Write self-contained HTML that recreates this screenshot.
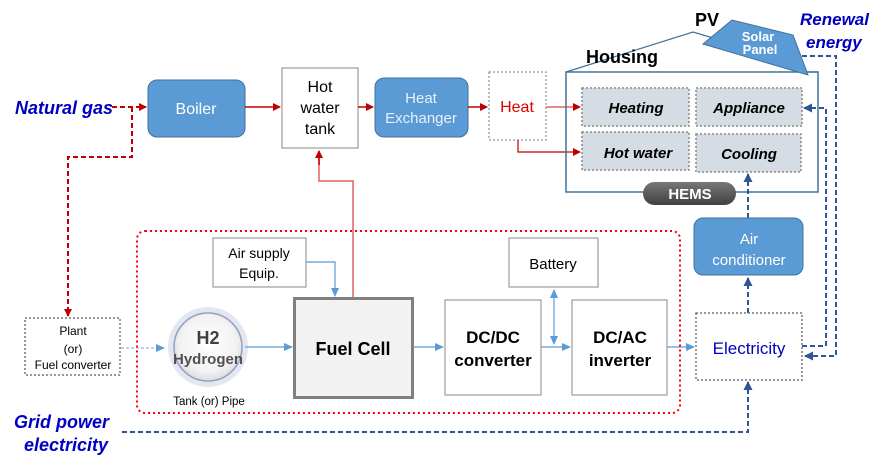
<!DOCTYPE html>
<html><head><meta charset="utf-8"><style>
html,body{margin:0;padding:0;background:#fff;}
svg{display:block;font-family:"Liberation Sans",sans-serif;}
</style></head><body>
<svg width="883" height="462" viewBox="0 0 883 462" xmlns="http://www.w3.org/2000/svg">
<defs>
<marker id="ar" markerWidth="8" markerHeight="8" refX="7" refY="4" orient="auto" markerUnits="userSpaceOnUse"><path d="M0,0 L8,4 L0,8 z" fill="#c00000"/></marker>
<marker id="ab" markerWidth="9" markerHeight="8" refX="8" refY="4" orient="auto" markerUnits="userSpaceOnUse"><path d="M0,0 L9,4 L0,8 z" fill="#5b9bd5"/></marker>
<marker id="ad" markerWidth="9" markerHeight="9" refX="8" refY="4.5" orient="auto" markerUnits="userSpaceOnUse"><path d="M0,0 L9,4.5 L0,9 z" fill="#2f5597"/></marker>
<marker id="abs" markerWidth="9" markerHeight="8" refX="1" refY="4" orient="auto" markerUnits="userSpaceOnUse"><path d="M9,0 L0,4 L9,8 z" fill="#5b9bd5"/></marker>
<radialGradient id="hg" cx="50%" cy="45%" r="55%"><stop offset="0" stop-color="#fff"/><stop offset="0.75" stop-color="#f2f2f2"/><stop offset="1" stop-color="#ddd"/></radialGradient>
<linearGradient id="hemsg" x1="0" y1="0" x2="0" y2="1"><stop offset="0" stop-color="#777"/><stop offset="1" stop-color="#404040"/></linearGradient>
</defs>

<!-- Natural gas -->
<text x="15" y="114" font-size="18" font-weight="bold" font-style="italic" fill="#0000c0">Natural gas</text>
<path d="M112,107 H146" stroke="#c00000" stroke-width="2" stroke-dasharray="5,3" fill="none" marker-end="url(#ar)"/>
<path d="M132,107 V157 H68 V316" stroke="#c00000" stroke-width="2" stroke-dasharray="5,3" fill="none" marker-end="url(#ar)"/>

<!-- Boiler -->
<rect x="148" y="80" width="97" height="57" rx="9" fill="#5b9bd5" stroke="#41719c"/>
<text x="196" y="114" font-size="16" fill="#fff" text-anchor="middle">Boiler</text>
<path d="M245,107 H280" stroke="#c00000" stroke-width="1.5" fill="none" marker-end="url(#ar)"/>

<rect x="282" y="68" width="76" height="80" fill="#fff" stroke="#888"/>
<text x="320" y="92" font-size="16" text-anchor="middle">Hot</text>
<text x="320" y="113" font-size="16" text-anchor="middle">water</text>
<text x="320" y="134" font-size="16" text-anchor="middle">tank</text>
<path d="M358,107 H373" stroke="#c00000" stroke-width="1.5" fill="none" marker-end="url(#ar)"/>

<rect x="375" y="78" width="93" height="59" rx="9" fill="#5b9bd5" stroke="#41719c"/>
<text x="421" y="103" font-size="15" fill="#e8f0fa" text-anchor="middle">Heat</text>
<text x="421" y="123" font-size="15" fill="#e8f0fa" text-anchor="middle">Exchanger</text>
<path d="M468,107 H487" stroke="#c00000" stroke-width="1.5" fill="none" marker-end="url(#ar)"/>

<rect x="489" y="72" width="57" height="68" fill="#fff" stroke="#777" stroke-dasharray="2,2"/>
<text x="517" y="112" font-size="16" fill="#e00000" text-anchor="middle">Heat</text>
<path d="M546,107 H580" stroke="#e06060" stroke-width="1.5" fill="none" marker-end="url(#ar)"/>
<path d="M518,140 V152 H580" stroke="#c00000" stroke-width="1.2" fill="none" marker-end="url(#ar)"/>

<!-- Housing -->
<path d="M566,72 L693,32 L720,40" stroke="#41719c" stroke-width="1.2" fill="none"/>
<path d="M800,72 L818,72" stroke="#41719c" stroke-width="1.2"/>
<rect x="566" y="72" width="252" height="120" fill="none" stroke="#41719c" stroke-width="1.5"/>
<polygon points="703,44 732,20 793,35 808,75" fill="#5b9bd5" stroke="#41719c"/>
<text x="758" y="41" font-size="13" font-weight="bold" fill="#fff" text-anchor="middle">Solar</text>
<text x="760" y="54" font-size="13" font-weight="bold" fill="#fff" text-anchor="middle">Panel</text>
<text x="695" y="26" font-size="18" font-weight="bold">PV</text>
<text x="586" y="63" font-size="18" font-weight="bold">Housing</text>

<g stroke="#888" stroke-dasharray="2,2" fill="#d6dce4" stroke-width="1.5">
<rect x="582" y="88" width="107" height="38"/>
<rect x="696" y="88" width="106" height="38"/>
<rect x="582" y="132" width="107" height="38"/>
<rect x="696" y="134" width="105" height="38"/>
</g>
<g font-size="15" font-weight="bold" font-style="italic" text-anchor="middle">
<text x="636" y="113">Heating</text>
<text x="749" y="113">Appliance</text>
<text x="638" y="158">Hot water</text>
<text x="749" y="159">Cooling</text>
</g>
<rect x="643" y="182" width="93" height="23" rx="11.5" fill="url(#hemsg)"/>
<text x="690" y="199" font-size="15" font-weight="bold" fill="#fff" text-anchor="middle">HEMS</text>

<text x="800" y="25" font-size="17" font-weight="bold" font-style="italic" fill="#0000c0">Renewal</text>
<text x="806" y="48" font-size="17" font-weight="bold" font-style="italic" fill="#0000c0">energy</text>

<!-- right dashed -->
<path d="M802,56 H836 V356 H805" stroke="#2f5597" stroke-width="2" stroke-dasharray="5,3" fill="none" marker-end="url(#ad)"/>
<path d="M802,346 H826 V108 H804" stroke="#2f5597" stroke-width="2" stroke-dasharray="5,3" fill="none" marker-end="url(#ad)"/>
<path d="M748,218 V174" stroke="#2f5597" stroke-width="2" stroke-dasharray="5,3" fill="none" marker-end="url(#ad)"/>

<!-- Air conditioner -->
<rect x="694" y="218" width="109" height="57" rx="9" fill="#5b9bd5" stroke="#41719c"/>
<text x="749" y="244" font-size="15" fill="#fff" text-anchor="middle">Air</text>
<text x="749" y="265" font-size="15" fill="#fff" text-anchor="middle">conditioner</text>
<path d="M748,313 V278" stroke="#2f5597" stroke-width="2" stroke-dasharray="5,3" fill="none" marker-end="url(#ad)"/>

<rect x="696" y="313" width="106" height="67" fill="#fff" stroke="#777" stroke-width="1.5" stroke-dasharray="2,2"/>
<text x="749" y="354" font-size="17" fill="#0000c0" text-anchor="middle">Electricity</text>

<!-- red dotted region -->
<rect x="137" y="231" width="543" height="182" rx="8" fill="none" stroke="#ff0000" stroke-width="2" stroke-dasharray="2,3"/>

<!-- Fuel cell to hot water -->
<path d="M353,297 V181 H319 V151" stroke="#e06060" stroke-width="1.5" fill="none"/>
<path d="M319,165 V151" stroke="#c00000" stroke-width="1.5" fill="none" marker-end="url(#ar)"/>

<rect x="213" y="238" width="93" height="49" fill="#fff" stroke="#888"/>
<text x="259" y="258" font-size="14" text-anchor="middle">Air supply</text>
<text x="259" y="278" font-size="14" text-anchor="middle">Equip.</text>
<path d="M306,262 H335 V296" stroke="#5b9bd5" stroke-width="1.2" fill="none" marker-end="url(#ab)"/>

<rect x="294.5" y="298.5" width="118" height="99" fill="#f2f2f2" stroke="#808080" stroke-width="3"/>
<text x="353" y="355" font-size="18" font-weight="bold" text-anchor="middle">Fuel  Cell</text>

<!-- H2 -->
<circle cx="208" cy="347" r="40" fill="#e4e8ee"/>
<circle cx="208" cy="347" r="34" fill="url(#hg)" stroke="#8fa2c4" stroke-width="1.5"/>
<text x="208" y="344" font-size="18" font-weight="bold" fill="#404040" text-anchor="middle">H2</text>
<text x="208" y="364" font-size="15" font-weight="bold" fill="#505050" text-anchor="middle">Hydrogen</text>
<text x="209" y="405" font-size="11.5" text-anchor="middle">Tank (or) Pipe</text>
<path d="M245,347 H292" stroke="#5b9bd5" stroke-width="1.2" fill="none" marker-end="url(#ab)"/>

<rect x="25" y="318" width="95" height="57" fill="#fff" stroke="#777" stroke-width="1.5" stroke-dasharray="2,2"/>
<text x="73" y="335" font-size="12" text-anchor="middle">Plant</text>
<text x="73" y="353" font-size="12" text-anchor="middle">(or)</text>
<text x="73" y="369" font-size="12" text-anchor="middle">Fuel converter</text>
<path d="M121,348 H164" stroke="#9dc3e6" stroke-width="1.5" stroke-dasharray="3,2" fill="none" marker-end="url(#ab)"/>

<path d="M413,347 H443" stroke="#5b9bd5" stroke-width="1.2" fill="none" marker-end="url(#ab)"/>
<rect x="445" y="300" width="96" height="95" fill="#fff" stroke="#888"/>
<text x="493" y="343" font-size="17" font-weight="bold" text-anchor="middle">DC/DC</text>
<text x="493" y="366" font-size="17" font-weight="bold" text-anchor="middle">converter</text>
<path d="M541,347 H570" stroke="#5b9bd5" stroke-width="1.2" fill="none" marker-end="url(#ab)"/>
<path d="M554,290 V344" stroke="#5b9bd5" stroke-width="1.2" fill="none" marker-start="url(#abs)" marker-end="url(#ab)"/>

<rect x="509" y="238" width="89" height="49" fill="#fff" stroke="#888"/>
<text x="553" y="269" font-size="15" text-anchor="middle">Battery</text>

<rect x="572" y="300" width="95" height="95" fill="#fff" stroke="#888"/>
<text x="620" y="343" font-size="17" font-weight="bold" text-anchor="middle">DC/AC</text>
<text x="620" y="366" font-size="17" font-weight="bold" text-anchor="middle">inverter</text>
<path d="M667,347 H694" stroke="#5b9bd5" stroke-width="1.2" fill="none" marker-end="url(#ab)"/>

<!-- Grid -->
<text x="14" y="428" font-size="18" font-weight="bold" font-style="italic" fill="#0000c0">Grid power</text>
<text x="24" y="451" font-size="18" font-weight="bold" font-style="italic" fill="#0000c0">electricity</text>
<path d="M122,432 H748 V382" stroke="#2f5597" stroke-width="2" stroke-dasharray="5,3" fill="none" marker-end="url(#ad)"/>
</svg>
</body></html>
